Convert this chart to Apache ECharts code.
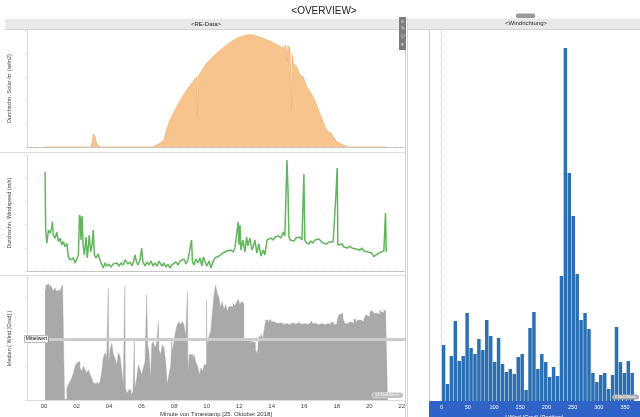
<!DOCTYPE html>
<html><head><meta charset="utf-8">
<script src="https://cdn.jsdelivr.net/npm/echarts@6/dist/echarts.min.js"></script>
<style>html,body{margin:0;padding:0;background:#fff}#c{width:640px;height:417px}</style>
</head><body><div id="c"></div>
<script>
// ---------- DATA ----------
const hourTicks = [0,2,4,6,8,10,12,14,16,18,20,22];
const windTicks = [0,50,100,150,200,250,300,350];

// Durchschn. Solar-Irr. (hours of day, W/m2)
const solarHours = [0,2.89,2.95,3.03,3.07,3.13,3.24,3.44,6.70,6.82,7.13,7.38,7.48,7.74,8.16,8.77,9.39,9.43,9.49,10.0,10.61,11.23,11.84,12.46,12.86,13.48,14.09,14.71,14.87,14.94,15.0,15.12,15.22,15.27,15.32,15.53,15.73,15.94,16.15,16.55,16.96,17.27,17.47,17.68,17.78,17.99,18.40,18.68,21.08];
const solarValues = [0,0,17,56,58,44,13,0,0,8.5,16,30,60,115,172,244,300,128,303,358,400,436,465,479,479,465,446,422,436,363,432,423,158,393,358,343,308,300,258,215,144,87,65,58,44,23,8.5,0,0];

// Durchschn. Windspeed (m/s)
const windHours = [0.06,0.10,0.17,0.27,0.37,0.47,0.51,0.57,0.68,0.78,0.88,0.98,1.09,1.19,1.29,1.40,1.49,1.60,1.70,1.80,1.91,2.01,2.11,2.18,2.23,2.27,2.34,2.40,2.48,2.58,2.66,2.78,2.86,2.95,3.03,3.09,3.20,3.32,3.44,
3.56,3.64,3.75,3.87,4.00,4.12,4.24,4.36,4.49,4.61,4.73,4.86,4.98,5.08,5.16,5.29,5.41,5.53,5.59,5.69,5.78,5.90,6.00,6.08,6.21,6.33,6.45,6.58,6.70,6.82,6.95,7.07,7.13,7.25,7.38,7.50,7.62,7.74,7.87,7.99,8.11,8.24,8.36,8.48,8.60,8.73,8.85,8.97,9.07,9.13,9.22,9.34,9.47,9.59,9.71,9.79,9.90,10.02,10.14,10.26,10.39,10.51,10.63,10.76,10.88,11.00,11.12,11.25,11.37,11.49,11.62,11.74,11.83,11.94,11.99,12.05,12.11,12.23,12.35,12.46,12.54,12.66,12.78,12.86,12.97,13.09,13.21,13.34,13.48,13.58,13.71,13.83,13.95,14.08,14.20,14.32,14.44,14.57,14.71,14.81,14.94,15.00,15.06,15.12,15.24,15.37,15.49,15.61,15.73,15.86,15.98,16.04,16.15,16.29,16.41,16.53,16.66,16.78,16.90,17.03,17.15,17.27,17.39,17.52,17.64,17.78,17.95,18.03,18.07,18.19,18.32,18.44,18.56,18.68,18.81,18.93,19.05,19.18,19.30,19.42,19.55,19.67,19.79,19.92,20.04,20.16,20.28,20.41,20.53,20.65,20.77,20.90,21.00,21.05,21.08];
const windValues = [8.56,3.53,2.39,3.53,3.28,3.71,4.25,3.10,2.82,3.36,2.53,2.82,2.24,2.53,2.09,2.39,1.23,0.95,0.78,1.12,0.69,1.03,1.38,4.83,4.57,2.67,4.74,2.24,1.38,2.93,1.12,3.10,1.64,2.24,3.53,1.38,1.12,1.47,0.95,
0.78,0.26,0.69,0.43,0.60,0.34,0.60,0.43,0.69,0.43,0.69,0.52,0.95,1.12,0.60,0.78,0.43,0.95,1.38,0.78,0.52,0.95,1.98,0.78,0.43,0.78,0.52,0.86,0.43,0.69,0.43,0.86,0.95,0.43,0.69,0.34,0.60,0.26,0.52,0.43,0.78,0.52,0.86,0.69,1.03,0.60,0.95,0.78,2.67,0.78,0.52,1.03,0.69,1.12,0.43,1.23,0.78,0.43,0.86,0.26,0.78,1.12,0.95,1.29,1.21,1.55,1.38,1.72,1.64,1.81,1.64,1.98,1.81,4.22,2.24,3.97,1.81,2.67,1.64,2.93,2.16,2.84,1.81,2.07,2.67,1.55,2.33,1.29,1.81,1.38,2.67,2.50,2.84,2.67,2.93,2.76,3.02,2.84,3.36,3.02,9.57,7.15,3.02,2.67,2.84,2.59,2.84,2.67,2.93,2.67,8.36,2.67,2.41,2.33,2.59,2.41,2.67,2.50,2.76,2.59,2.41,2.50,2.33,2.50,2.33,2.50,6.55,8.88,2.24,2.16,2.33,2.07,2.24,1.98,2.16,1.98,2.09,1.90,2.07,1.81,1.98,1.72,1.81,1.64,1.47,1.55,1.23,1.38,1.47,1.58,1.55,1.72,5.0,1.64,1.72];

// Median ( Wind [Grad] ) per minute (step values)
const medianHours = [0.06,0.12,0.22,0.31,0.40,0.49,0.58,0.68,0.77,0.86,0.95,1.04,1.14,1.23,1.26,1.40,1.49,1.60,1.70,1.80,1.91,2.01,2.11,2.21,2.32,2.42,2.52,2.62,2.72,2.83,2.93,3.03,3.13,3.24,3.34,3.44,3.55,3.64,3.75,3.85,3.95,3.98,4.06,4.16,4.26,4.36,4.47,4.57,4.67,4.78,4.87,4.97,5.00,5.10,5.22,5.35,5.47,5.55,5.58,5.70,5.80,5.90,6.00,6.10,6.21,6.31,6.37,6.45,6.55,6.62,6.72,6.82,6.93,7.03,7.07,7.17,7.27,7.38,7.48,7.58,7.68,7.79,7.85,7.89,7.99,8.09,8.19,8.30,8.40,8.50,8.60,8.71,8.82,8.85,8.93,9.03,9.14,9.24,9.34,9.45,9.55,9.65,9.75,9.85,9.99,10.02,10.14,10.25,10.34,10.45,10.55,10.65,10.76,10.86,10.96,11.06,11.17,11.27,11.37,11.49,11.62,11.74,11.86,11.95,12.05,12.14,12.23,12.29,12.42,12.54,12.66,12.79,12.91,13.00,13.12,13.21,13.34,13.46,13.55,13.64,13.77,13.89,14.01,14.14,14.26,14.38,14.57,14.75,14.94,15.12,15.30,15.49,15.67,15.86,16.04,16.23,16.41,16.53,16.72,16.90,17.09,17.27,17.46,17.64,17.82,18.01,18.13,18.25,18.38,18.50,18.68,18.87,19.05,19.18,19.30,19.48,19.67,19.79,19.91,20.04,20.16,20.28,20.41,20.53,20.65,20.77,20.90,21.02,21.14];
const medianValues = [313,336,340,330,336,326,320,328,318,323,313,328,337,340,2,35,45,55,64,79,99,108,113,94,84,99,89,79,89,74,64,50,47,53,47,53,84,123,138,123,328,113,147,167,133,123,103,138,128,84,45,333,35,20,30,16,25,176,35,64,103,89,74,94,113,308,162,143,64,162,172,152,167,230,147,133,162,152,113,45,74,103,176,143,172,201,220,228,220,230,220,186,318,84,133,133,123,133,108,99,74,94,84,103,294,162,186,201,250,308,336,313,299,269,289,264,279,260,274,273,283,275,288,295,278,288,283,176,173,178,171,174,168,146,137,185,195,181,210,234,226,236,229,234,224,226,221,224,221,226,222,226,221,224,221,226,232,224,220,224,220,224,221,227,221,229,249,254,239,224,229,224,236,226,234,229,236,249,244,256,263,254,258,252,263,256,265,258,258];
const mittelwert = 178.5;

// Windrichtung histogram (bin centre in Grad, count)
const windBins = [3.75,11.25,18.75,26.25,33.75,41.25,48.75,56.25,63.75,71.25,78.75,86.25,93.75,101.25,108.75,116.25,123.75,131.25,138.75,146.25,153.75,161.25,168.75,176.25,183.75,191.25,198.75,206.25,213.75,221.25,228.75,236.25,243.75,251.25,258.75,266.25,273.75,281.25,288.75,296.25,303.75,311.25,318.75,326.25,333.75,341.25,348.75,356.25,363.75];
const windCounts = [56,17,45,80,40,45,88,53,47,62,51,81,65,39,63,37,29,32,27,44,47,11,73,89,32,47,39,24,34,25,125,353,228,185,127,81,88,72,28,19,26,28,12,26,74,39,28,40,28];

// ---------- CHART ----------
const FONT = 'Liberation Sans, Arial, sans-serif';
const T0 = -1.05, T1 = 22.2;
const pairs = (xs, ys) => xs.map((x, i) => [x, ys[i]]);
const pad2 = v => (v < 10 ? '0' : '') + v;

function timeX(i, last) {
  const ax = {
    type: 'value', gridIndex: i, min: T0, max: T1,
    axisLine: { show: true, onZero: false, lineStyle: { color: last ? '#dddddd' : '#b8b8b8', type: last ? 'solid' : 'dotted', width: 1 } },
    axisTick: { show: false }, splitLine: { show: false },
    axisLabel: { show: false }
  };
  if (last) {
    ax.axisLabel = { show: true, customValues: hourTicks, formatter: pad2, fontSize: 6, color: '#444', margin: 3, fontFamily: FONT };
    ax.name = 'Minute von Timestamp [25. Oktober 2018]';
    ax.nameLocation = 'middle';
    ax.nameGap = 11;
    ax.nameTextStyle = { fontSize: 6, color: '#333', fontFamily: FONT };
  }
  return ax;
}
function leftY(i, max, name) {
  return {
    type: 'value', gridIndex: i, min: 0, max: max,
    axisLine: { show: true, onZero: false, lineStyle: { color: '#d8d8d8' } },
    axisTick: { show: true, length: 2, lineStyle: { color: '#e0e0e0' } },
    axisLabel: { show: false }, splitLine: { show: false },
    name: name, nameLocation: 'middle', nameGap: 15, nameRotate: 90,
    nameTextStyle: { fontSize: 5.5, color: '#444', fontFamily: FONT }
  };
}
function txt(x, y, text, size, color, z) {
  return { type: 'text', x: x, y: y, z: z || 10, silent: true,
    style: { text: text, fontSize: size, fontFamily: FONT, fill: color,
      textAlign: 'center', align: 'center', textVerticalAlign: 'middle', verticalAlign: 'middle' } };
}
function rect(x, y, w, h, fill, extra) {
  return Object.assign({ type: 'rect', silent: true, shape: { x: x, y: y, width: w, height: h, r: (extra && extra.r) || 0 },
    style: { fill: fill, stroke: (extra && extra.stroke) || null, lineWidth: (extra && extra.lw) || 0 } }, extra && extra.z !== undefined ? { z: extra.z } : {});
}
function hline(x1, x2, y, c) { return { type: 'line', silent: true, shape: { x1: x1, y1: y, x2: x2, y2: y }, style: { stroke: c, lineWidth: 1 } }; }
function vline(x, y1, y2, c) { return { type: 'line', silent: true, shape: { x1: x, y1: y1, x2: x, y2: y2 }, style: { stroke: c, lineWidth: 1 } }; }

const chart = echarts.init(document.getElementById('c'), null, { renderer: 'canvas' });
chart.setOption({
  animation: false,
  backgroundColor: '#ffffff',
  textStyle: { fontFamily: FONT },
  grid: [
    { left: 27, top: 30, width: 378, height: 117, outerBoundsMode: 'none' },
    { left: 27, top: 155, width: 378, height: 116, outerBoundsMode: 'none' },
    { left: 27, top: 277, width: 378, height: 123, outerBoundsMode: 'none' },
    { left: 429, top: 30, width: 211, height: 371, outerBoundsMode: 'none' }
  ],
  xAxis: [
    timeX(0, false), timeX(1, false), timeX(2, true),
    { type: 'value', gridIndex: 3, min: -24, max: 378.6,
      axisLine: { show: false }, axisTick: { show: false }, splitLine: { show: false },
      axisLabel: { customValues: windTicks, color: '#ffffff', fontSize: 5.5, margin: 3, fontFamily: FONT },
      name: 'I Wind (Grad) (Partition)', nameLocation: 'middle', nameGap: 8,
      nameTextStyle: { color: '#ffffff', fontSize: 5.5, fontFamily: FONT } }
  ],
  yAxis: [
    leftY(0, 500, 'Durchschn. Solar-Irr. (w/m2)'),
    leftY(1, 10, 'Durchschn. Windspeed (m/s)'),
    leftY(2, 360, 'Median ( Wind [Grad] )'),
    { type: 'value', gridIndex: 3, min: 0, max: 371,
      axisLine: { show: true, onZero: false, lineStyle: { color: '#cccccc' } }, axisTick: { show: false },
      axisLabel: { show: false }, splitLine: { show: false } }
  ],
  series: [
    { type: 'line', xAxisIndex: 0, yAxisIndex: 0, data: pairs(solarHours, solarValues),
      showSymbol: false, symbol: 'none', lineStyle: { color: '#f1b375', width: 0.8 },
      areaStyle: { color: '#f8c48e', opacity: 1 } },
    { type: 'line', xAxisIndex: 1, yAxisIndex: 1, data: pairs(windHours, windValues),
      showSymbol: false, symbol: 'none', lineStyle: { color: '#62b55d', width: 1.5 } },
    { type: 'line', xAxisIndex: 2, yAxisIndex: 2, data: pairs(medianHours, medianValues),
      step: 'end', showSymbol: false, symbol: 'none', lineStyle: { color: '#a9a9a9', width: 0.4 },
      areaStyle: { color: '#a9a9a9', opacity: 1 },
      markLine: { symbol: ['none', 'none'], silent: true,
        lineStyle: { color: '#cdcdcd', width: 3, type: 'solid' },
        label: { show: true, position: 'start', formatter: 'Mittelwert', fontSize: 5, color: '#222',
          backgroundColor: '#f3f3f3', borderColor: '#8a8a8a', borderWidth: 0.5, padding: [1, 1], distance: 1, fontFamily: FONT },
        data: [[{ coord: [0.31, mittelwert] }, { coord: [T1, mittelwert] }]] } },
    { type: 'bar', xAxisIndex: 3, yAxisIndex: 3, data: pairs(windBins, windCounts),
      barWidth: 3.5, itemStyle: { color: '#2b70b4' },
      markLine: { symbol: ['none', 'none'], silent: true, label: { show: false },
        lineStyle: { type: 'dotted', color: '#c8c8c8', width: 1 }, data: [{ xAxis: 0 }] } }
  ],
  graphic: { elements: [
    rect(429, 401, 211, 16, '#2f63c7', { z: -1 }),
    rect(5, 19, 395, 10, '#e9e9ec'),
    hline(5, 400, 29.5, '#d2d2d8'),
    rect(407, 18.5, 233, 10.5, '#e9e9ec'),
    hline(407, 640, 29.5, '#d2d2d8'),
    txt(206, 24, '<RE-Data>', 6, '#222'),
    txt(526, 23.5, '<Windrichtung>', 6, '#222'),
    txt(324, 11, '<OVERVIEW>', 10, '#222'),
    rect(516, 13.5, 19, 4.5, '#9a9a9a', { r: 1.5 }),
    vline(405.5, 29, 417, '#d0d0d0'),
    vline(407.5, 18, 417, '#d6d6d6'),
    hline(0, 405, 152.5, '#dcdcdc'),
    hline(0, 405, 275.5, '#dcdcdc'),
    rect(399, 17, 7, 33, '#7d7d7d', { z: 20 }),
    txt(402.5, 21, '×', 6, '#e4e4e4', 21),
    txt(402.5, 28.5, '✎', 5, '#e4e4e4', 21),
    txt(402.5, 36.5, '▽', 5, '#e4e4e4', 21),
    txt(402.5, 45, '▾', 5, '#e4e4e4', 21),
    rect(372, 392.5, 31, 5.5, '#bdbdbd', { r: 2.7, stroke: '#e6e6e6', lw: 0.5, z: 100 }),
    txt(387.5, 395.3, '≥2 Null-Werte', 4, '#ffffff', 101),
    rect(612, 394.5, 27, 5, '#a8a8a8', { r: 2.5, z: 100 }),
    txt(625.5, 397, '2 Null-Werte', 4, '#ffffff', 101)
  ] }
});
</script>
</body></html>
